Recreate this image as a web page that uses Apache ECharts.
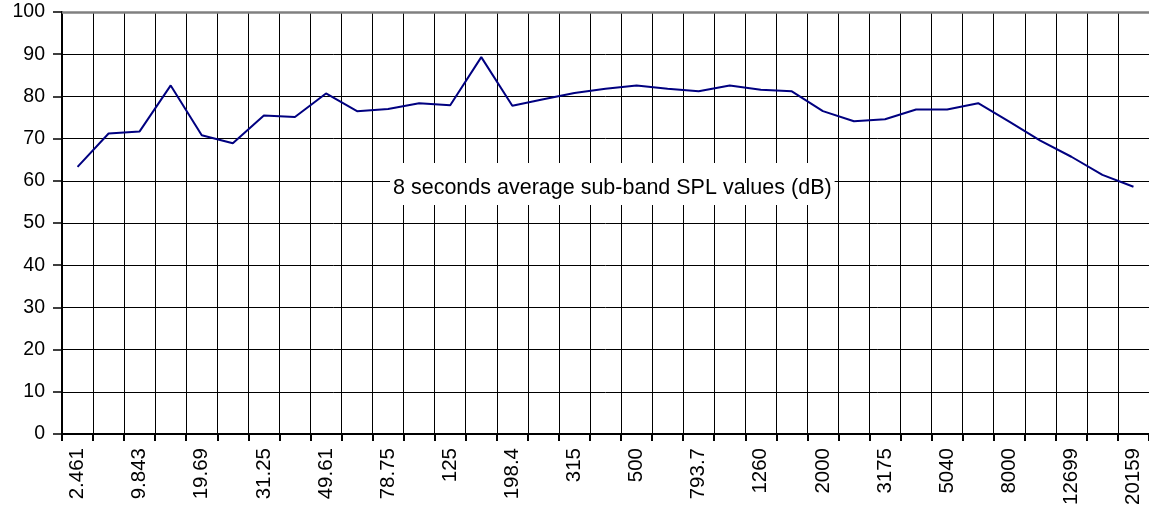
<!DOCTYPE html>
<html>
<head>
<meta charset="utf-8">
<script src="https://cdn.jsdelivr.net/npm/echarts@6/dist/echarts.min.js"></script>
<style>
html,body{margin:0;padding:0;background:#fff;}
#chart{width:1149px;height:508px;}
</style>
</head>
<body>
<div id="chart"></div>
<script>
const categories = ['2.461','4.921','9.843','13.92','19.69','24.8','31.25','39.37','49.61','62.5','78.75','99.21','125','157.5','198.4','250','315','396.9','500','630','793.7','1000','1260','1587','2000','2520','3175','4000','5040','6350','8000','10079','12699','16000','20159'];
const splValues = [63.3,71.2,71.7,82.6,70.8,68.9,75.5,75.1,80.7,76.5,77.0,78.4,77.9,89.3,77.8,79.3,80.8,81.8,82.6,81.8,81.2,82.6,81.6,81.2,76.5,74.1,74.6,76.9,76.9,78.4,74.0,69.5,65.7,61.4,58.6];
const yTicks = {min:0, max:100, interval:10};
const titleText = '8 seconds average sub-band SPL values (dB)';

const chart = echarts.init(document.getElementById('chart'), null, {renderer:'canvas'});
const font = 'Liberation Sans, Arial, sans-serif';
const ySplitColors = ['#000','#000','#000','#000','#000','#000','#000','#000','#000','#000','#808080'];
chart.setOption({
  animation:false,
  backgroundColor:'#ffffff',
  title:{
    text:titleText,
    left:390, top:163,
    backgroundColor:'#ffffff',
    padding:[14,3,6,3],
    textStyle:{fontFamily:font,fontSize:21.5,fontWeight:'normal',color:'#000'}
  },
  grid:{left:62, top:12, width:1091, height:424, containLabel:false},
  xAxis:{
    type:'category',
    data:categories,
    boundaryGap:true,
    axisLine:{show:true,lineStyle:{color:'#000',width:2}},
    axisTick:{show:true,interval:0,length:7,lineStyle:{color:'#000',width:2}},
    axisLabel:{interval:1,rotate:90,margin:14,fontFamily:font,fontSize:20.5,color:'#000'},
    splitLine:{show:true,interval:0,lineStyle:{color:'#000',width:1}}
  },
  yAxis:{
    type:'value',
    min:yTicks.min, max:yTicks.max, interval:yTicks.interval,
    axisLine:{show:true,lineStyle:{color:'#000',width:2}},
    axisTick:{show:true,length:9,lineStyle:{color:'#000',width:1.5}},
    axisLabel:{margin:17,fontFamily:font,fontSize:19.5,color:'#000'},
    splitLine:{show:true,lineStyle:{color:ySplitColors,width:1}}
  },
  series:[{
    type:'line',
    data:splValues,
    symbol:'none',
    lineStyle:{color:'#000080',width:2},
    markLine:{
      silent:true,symbol:'none',label:{show:false},
      lineStyle:{color:'#808080',width:2.5,type:'solid'},
      data:[{yAxis:100}]
    }
  }]
});
</script>
</body>
</html>
